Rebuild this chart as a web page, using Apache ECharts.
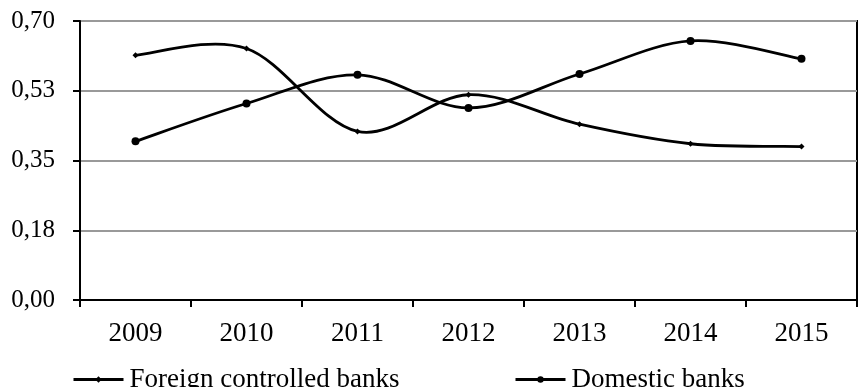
<!DOCTYPE html>
<html>
<head>
<meta charset="utf-8">
<script src="https://cdn.jsdelivr.net/npm/echarts@6/dist/echarts.min.js"></script>
<style>
  html, body { margin: 0; padding: 0; background: #fff; }
  #chart { width: 860px; height: 387px; }
</style>
</head>
<body>
<div id="chart"></div>
<script>
// Years on the category axis
const years = ['2009', '2010', '2011', '2012', '2013', '2014', '2015'];

// Ratio per year for each group of banks
const foreignBanks = [0.614, 0.631, 0.423, 0.515, 0.441, 0.392, 0.385];
const domesticBanks = [0.398, 0.493, 0.565, 0.482, 0.567, 0.650, 0.605];

// Value axis tick labels (step 0.175, comma decimal separator)
const yTickLabels = ['0,00', '0,18', '0,35', '0,53', '0,70'];
const yStep = 0.175;

const FONT = '"Liberation Serif", "Times New Roman", serif';
const LINE_W = 2.8;

// Smoothed curve segment between point i and i+1 (cubic Bezier with
// Catmull-Rom style control points, end points duplicated at the ends).
function smoothCurve(values) {
  return function (params, api) {
    const i = params.dataIndex;
    const n = values.length;
    if (i >= n - 1) return null;
    const pt = k => {
      const j = Math.max(0, Math.min(n - 1, k));
      return api.coord([j, values[j]]);
    };
    const p0 = pt(i - 1), p1 = pt(i), p2 = pt(i + 1), p3 = pt(i + 2);
    return {
      type: 'bezierCurve',
      shape: {
        x1: p1[0], y1: p1[1],
        x2: p2[0], y2: p2[1],
        cpx1: p1[0] + (p2[0] - p0[0]) / 6, cpy1: p1[1] + (p2[1] - p0[1]) / 6,
        cpx2: p2[0] - (p3[0] - p1[0]) / 6, cpy2: p2[1] - (p3[1] - p1[1]) / 6
      },
      style: { stroke: '#000', lineWidth: LINE_W, fill: null, lineCap: 'round' }
    };
  };
}

const legendBase = {
  itemWidth: 50, itemHeight: 8, itemGap: 0,
  lineStyle: { color: '#000', width: 3, opacity: 1 },
  textStyle: { fontFamily: FONT, fontSize: 27, color: '#000', padding: [0, 0, 0, 1] }
};

const chart = echarts.init(document.getElementById('chart'), null, { renderer: 'canvas' });

chart.setOption({
  animation: false,
  backgroundColor: '#fff',
  grid: {
    left: 80, right: 3, top: 21, bottom: 87,
    show: true, borderColor: '#000', borderWidth: 2, backgroundColor: 'transparent'
  },
  legend: [
    Object.assign({ data: ['Foreign controlled banks'], left: 67, top: 361 }, legendBase),
    Object.assign({ data: ['Domestic banks'], left: 509, top: 361 }, legendBase)
  ],
  xAxis: {
    type: 'category',
    data: years,
    boundaryGap: true,
    axisLine: { lineStyle: { color: '#000', width: 2 } },
    axisTick: { show: true, length: 7, lineStyle: { color: '#000', width: 2 } },
    axisLabel: { fontFamily: FONT, fontSize: 27, color: '#000', margin: 20 },
    splitLine: { show: false }
  },
  yAxis: {
    type: 'value',
    min: 0, max: 0.7, interval: yStep,
    axisLine: { show: true, lineStyle: { color: '#000', width: 2 } },
    axisTick: { show: true, length: 7, lineStyle: { color: '#000', width: 2 } },
    axisLabel: {
      fontFamily: FONT, fontSize: 25, color: '#000', margin: 25,
      formatter: v => yTickLabels[Math.round(v / yStep)]
    },
    splitLine: { show: true, lineStyle: { color: '#999', width: 2 } }
  },
  series: [
    {
      type: 'custom',
      silent: true,
      z: 2,
      data: foreignBanks.map((v, i) => [i, v]),
      encode: { x: 0, y: 1 },
      renderItem: smoothCurve(foreignBanks)
    },
    {
      type: 'custom',
      silent: true,
      z: 2,
      data: domesticBanks.map((v, i) => [i, v]),
      encode: { x: 0, y: 1 },
      renderItem: smoothCurve(domesticBanks)
    },
    {
      name: 'Foreign controlled banks',
      type: 'line',
      z: 3,
      data: foreignBanks,
      symbol: 'diamond',
      symbolSize: 6,
      lineStyle: { color: '#000', width: LINE_W, opacity: 0 },
      itemStyle: { color: '#000' }
    },
    {
      name: 'Domestic banks',
      type: 'line',
      z: 3,
      data: domesticBanks,
      symbol: 'circle',
      symbolSize: 8,
      lineStyle: { color: '#000', width: LINE_W, opacity: 0 },
      itemStyle: { color: '#000' }
    }
  ]
});
</script>
</body>
</html>
